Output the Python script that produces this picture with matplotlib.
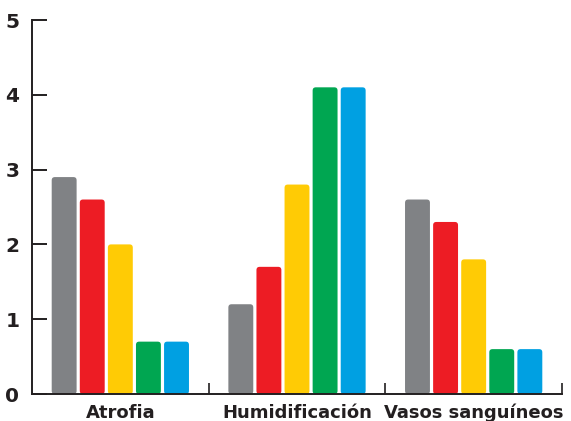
import matplotlib
matplotlib.use("Agg")
import matplotlib.pyplot as plt
from matplotlib.patches import FancyBboxPatch
import numpy as np

categories = ["Atrofia", "Humidificación", "Vasos sanguíneos"]
series1 = [2.9, 1.2, 2.6]
series2 = [2.6, 1.7, 2.3]
series3 = [2.0, 2.8, 1.8]
series4 = [0.7, 4.1, 0.6]
series5 = [0.7, 4.1, 0.6]
colors = ["#808285", "#ed1c24", "#ffcb05", "#00a651", "#00a0e2"]

plt.rcParams['font.family'] = ['DejaVu Sans']
ink = "#231f20"

fig = plt.figure(figsize=(5.71, 4.21), dpi=100)
ax = fig.add_axes([32/571, 27/421, 530/571, 374/421])

x = np.arange(len(categories))
step = 0.159
width = 0.141
allseries = [series1, series2, series3, series4, series5]

for i, vals in enumerate(allseries):
    offs = (i - 2) * step
    bars = ax.bar(x + offs, vals, width, color=colors[i])
    # swap plain rectangles for ones with slightly rounded tops
    for b in bars:
        b.set_visible(False)
        p = FancyBboxPatch((b.get_x(), 0), b.get_width(), b.get_height(),
                           boxstyle="round,pad=0,rounding_size=0.018",
                           mutation_aspect=2.37, facecolor=colors[i],
                           edgecolor="none", zorder=2)
        ax.add_patch(p)

ax.set_xlim(-0.5, 2.5)
ax.set_ylim(0, 5)

for s in ["top", "right"]:
    ax.spines[s].set_visible(False)
ax.spines["left"].set_color(ink)
ax.spines["bottom"].set_color(ink)
ax.spines["left"].set_linewidth(1.4)
ax.spines["bottom"].set_linewidth(1.4)
ax.spines["bottom"].set_zorder(3)

ax.set_yticks([0, 1, 2, 3, 4, 5])
ax.tick_params(axis="y", direction="in", length=11, width=1.4, color=ink,
               labelsize=14.5, labelcolor=ink, pad=9)
for lab in ax.get_yticklabels():
    lab.set_fontweight("bold")

ax.set_xticks([0.5, 1.5, 2.5])
ax.set_xticklabels([])
ax.tick_params(axis="x", which="major", direction="in", length=8, width=1.2, color=ink)
ax.set_xticks(x, minor=True)
ax.set_xticklabels(categories, minor=True, fontsize=13, fontweight="bold", color=ink)
ax.tick_params(axis="x", which="minor", length=0, pad=7)

fig.savefig("out.png", dpi=100)
